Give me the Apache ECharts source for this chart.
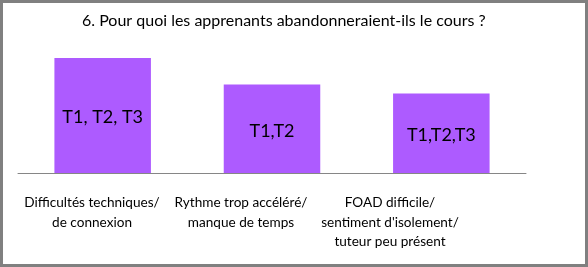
<!DOCTYPE html>
<html>
<head>
<meta charset="utf-8">
<script src="https://cdn.jsdelivr.net/npm/echarts@6/dist/echarts.min.js"></script>
<style>
html,body{margin:0;padding:0;background:#fff;}
#chart{width:588px;height:267px;}
</style>
</head>
<body>
<div id="chart"></div>
<script>
const titleText = "6. Pour quoi les apprenants abandonneraient-ils le cours ?";
const categories = [
  "Difficultés techniques/\nde connexion",
  "Rythme trop accéléré/\nmanque de temps",
  "FOAD difficile/\nsentiment d'isolement/\ntuteur peu présent"
];
const values = [13, 10, 9];
const barLabels = ["T1, T2, T3", "T1,T2", "T1,T2,T3"];

const FONT = "Lato, 'Open Sans', sans-serif";
const chart = echarts.init(document.getElementById('chart'), null, {renderer: 'canvas'});
chart.setOption({
  animation: false,
  backgroundColor: '#ffffff',
  title: {
    text: titleText,
    left: 77,
    top: 8,
    textStyle: {fontFamily: FONT, fontSize: 16, fontWeight: 'normal', color: '#000'}
  },
  graphic: [{
    type: 'rect',
    shape: {x: 1.5, y: 1.5, width: 585, height: 264},
    style: {fill: null, stroke: '#808080', lineWidth: 3},
    silent: true
  }],
  grid: [
    {left: 18, right: 62, top: 40.3, bottom: 94},
    {left: 17.5, right: 123.5, top: 40.3, bottom: 94}
  ],
  xAxis: [
    {
      type: 'category', gridIndex: 0, data: categories,
      axisLine: {lineStyle: {color: '#868686', width: 1}},
      axisTick: {show: false},
      axisLabel: {show: false}
    },
    {
      type: 'category', gridIndex: 1, data: categories,
      axisLine: {show: false},
      axisTick: {show: false},
      axisLabel: {
        interval: 0, margin: 20, fontFamily: FONT, fontSize: 13.6,
        lineHeight: 19.5, color: '#000', align: 'center'
      }
    }
  ],
  yAxis: [
    {type: 'value', gridIndex: 0, min: 0, max: 15, show: false},
    {type: 'value', gridIndex: 1, min: 0, max: 15, show: false}
  ],
  series: [{
    type: 'bar',
    xAxisIndex: 0, yAxisIndex: 0,
    data: values,
    barWidth: '57%',
    itemStyle: {color: '#AD5BFF'},
    label: {
      show: true,
      position: 'inside',
      offset: [0, 2],
      formatter: p => barLabels[p.dataIndex],
      fontFamily: FONT, fontSize: 18, color: '#000'
    }
  }]
});
</script>
</body>
</html>
